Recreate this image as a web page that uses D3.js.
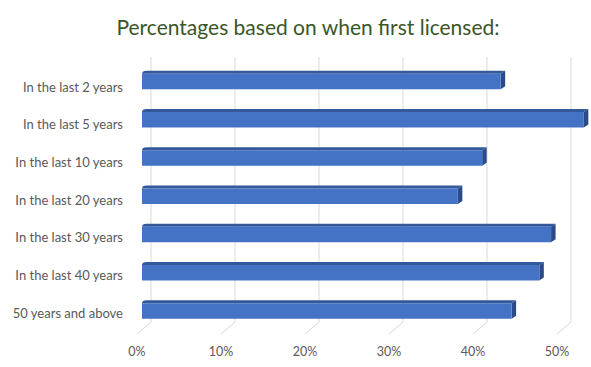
<!DOCTYPE html>
<html lang="en">
<head>
  <meta charset="UTF-8">
  <title>Percentages based on when first licensed</title>
  <script src="https://d3js.org/d3.v7.min.js"></script>
  <style>
    body { margin: 0; background: #fff; }
    text { font-family: Lato, "Open Sans", sans-serif; }
  </style>
</head>
<body>
  <svg width="591" height="367"></svg>
  <script>
    const categories = [
      "In the last 2 years",
      "In the last 5 years",
      "In the last 10 years",
      "In the last 20 years",
      "In the last 30 years",
      "In the last 40 years",
      "50 years and above"
    ];
    const values = [0.427, 0.526, 0.405, 0.376, 0.487, 0.473, 0.440];
    const ticks = [0, 0.1, 0.2, 0.3, 0.4, 0.5];
    const title = "Percentages based on when first licensed:";

    const svg = d3.select("svg");

    // front plane scale (tick labels sit on it)
    const x = d3.scaleLinear().domain([0, 0.5]).range([137, 557]);
    const depth = {dx: 14, dy: -12};
    const floorY = 334;
    const wallTop = 57;

    // bars sit part way into the depth
    const barOff = 5;
    const y = d3.scalePoint().domain(categories).range([81.5, 311]);
    // labels are on the front plane, a little lower
    const yLabel = d3.scalePoint().domain(categories).range([91.5, 317.7]);
    const barH = 15.5;
    const bev = {dx: 4.5, dy: -3};

    // title
    svg.append("text")
      .attr("x", 308)
      .attr("y", 35)
      .attr("text-anchor", "middle")
      .attr("font-size", 21)
      .attr("fill", "#3a5628")
      .text(title);

    // back wall gridlines + floor lines
    const grid = svg.append("g").attr("stroke", "#d9d9d9").attr("stroke-width", 1).attr("fill", "none");
    grid.selectAll(".wall")
      .data(ticks)
      .join("line")
      .attr("x1", d => x(d) + depth.dx)
      .attr("x2", d => x(d) + depth.dx)
      .attr("y1", floorY + depth.dy)
      .attr("y2", wallTop);
    grid.selectAll(".floor")
      .data(ticks)
      .join("line")
      .attr("x1", d => x(d))
      .attr("y1", floorY)
      .attr("x2", d => x(d) + depth.dx)
      .attr("y2", floorY + depth.dy);

    // tick labels
    svg.append("g")
      .selectAll("text")
      .data(ticks)
      .join("text")
      .attr("x", d => x(d))
      .attr("y", 356)
      .attr("text-anchor", "middle")
      .attr("font-size", 12.5)
      .attr("fill", "#595959")
      .text(d3.format(".0%"));

    // category labels
    svg.append("g")
      .selectAll("text")
      .data(categories)
      .join("text")
      .attr("x", 123)
      .attr("y", d => yLabel(d))
      .attr("text-anchor", "end")
      .attr("font-size", 13)
      .attr("fill", "#595959")
      .text(d => d);

    // 3d bars
    const bars = svg.append("g")
      .selectAll("g")
      .data(categories.map((c, i) => ({c, v: values[i]})))
      .join("g");

    const x0 = x(0) + barOff;
    bars.append("path")
      .attr("fill", "#34599b")
      .attr("d", d => {
        const x1 = x(d.v) + barOff, top = y(d.c) - barH / 2;
        return `M${x0},${top}Q${x0},${top + bev.dy} ${x0 + bev.dx},${top + bev.dy}L${x1 + bev.dx},${top + bev.dy}L${x1},${top}Z`;
      });
    bars.append("path")
      .attr("fill", "#2a4b87")
      .attr("d", d => {
        const x1 = x(d.v) + barOff, top = y(d.c) - barH / 2, bot = top + barH;
        return `M${x1},${top}L${x1 + bev.dx},${top + bev.dy}L${x1 + bev.dx},${bot + bev.dy}L${x1},${bot}Z`;
      });
    bars.append("rect")
      .attr("x", x0)
      .attr("y", d => y(d.c) - barH / 2)
      .attr("width", d => x(d.v) - x(0))
      .attr("height", barH)
      .attr("fill", "#4472c4");
  </script>
</body>
</html>
